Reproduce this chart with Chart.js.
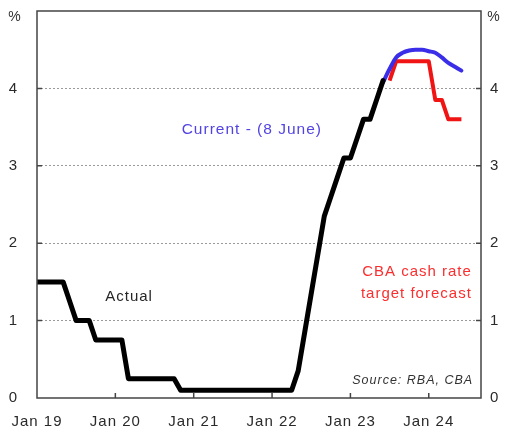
<!DOCTYPE html>
<html>
<head>
<meta charset="utf-8">
<script src="https://cdn.jsdelivr.net/npm/chart.js@4"></script>
<style>
  html, body { margin: 0; padding: 0; background: #ffffff; }
  #wrap { width: 506px; height: 434px; }
</style>
</head>
<body>
<div id="wrap"><canvas id="chart" width="506" height="434"></canvas></div>
<script>
// Cash rate, % — monthly, months counted from Jan 2019 (month 0)
const actualStart = 0;
const actualRate = [
  1.50, 1.50, 1.50, 1.50, 1.50, 1.25, 1.00, 1.00, 1.00, 0.75, 0.75, 0.75, // 2019
  0.75, 0.75, 0.25, 0.25, 0.25, 0.25, 0.25, 0.25, 0.25, 0.25, 0.10, 0.10, // 2020
  0.10, 0.10, 0.10, 0.10, 0.10, 0.10, 0.10, 0.10, 0.10, 0.10, 0.10, 0.10, // 2021
  0.10, 0.10, 0.10, 0.10, 0.35, 0.85, 1.35, 1.85, 2.35, 2.60, 2.85, 3.10, // 2022
  3.10, 3.35, 3.60, 3.60, 3.85, 4.10                                      // 2023
];

// Market pricing as at 8 June (from Jun 2023)
const currentStart = 53;
const currentPath = [4.08, 4.25, 4.40, 4.46, 4.49, 4.50, 4.50, 4.48, 4.46, 4.40, 4.33, 4.28, 4.23];

// CBA cash rate target forecast (from Jul 2023)
const cbaStart = 54;
const cbaForecast = [4.10, 4.35, 4.35, 4.35, 4.35, 4.35, 4.35, 3.85, 3.85, 3.60, 3.60, 3.60];

// X-axis tick labels, one per January
const tickLabels = ['Jan 19', 'Jan 20', 'Jan 21', 'Jan 22', 'Jan 23', 'Jan 24'];
const yTicks = [0, 1, 2, 3, 4];

const FONT = '"Liberation Sans", Arial, sans-serif';
const toPoints = (start, arr) => arr.map((v, i) => ({ x: start + i, y: v }));

// Fixed axis sizes; label overhang should not shrink the plot
const fixSize = (w, h) => s => {
  if (w != null) s.width = w;
  if (h != null) s.height = h;
  s.paddingLeft = s.paddingRight = s.paddingTop = s.paddingBottom = 0;
};

// Frame, inner tick marks, annotations and unit labels
const decor = {
  id: 'decor',
  beforeUpdate(chart) { chart.ctx.letterSpacing = '1px'; },
  beforeDraw(chart) { chart.ctx.letterSpacing = '1px'; },
  afterDatasetsDraw(chart) {
    const { ctx, chartArea: a, scales } = chart;
    const xs = scales.x, ys = scales.y;
    ctx.save();
    ctx.strokeStyle = '#444';
    ctx.lineWidth = 1.5;
    ctx.strokeRect(a.left, a.top, a.right - a.left, a.bottom - a.top);
    ctx.beginPath();
    yTicks.slice(1).forEach(v => {
      const py = ys.getPixelForValue(v);
      ctx.moveTo(a.left, py); ctx.lineTo(a.left + 5, py);
      ctx.moveTo(a.right, py); ctx.lineTo(a.right - 5, py);
    });
    tickLabels.forEach((_, i) => {
      if (i === 0) return;
      const px = xs.getPixelForValue(i * 12);
      ctx.moveTo(px, a.bottom); ctx.lineTo(px, a.bottom - 5);
    });
    ctx.stroke();

    const text = (str, mx, vy, font, color, align) => {
      ctx.font = font;
      ctx.fillStyle = color;
      ctx.textAlign = align || 'center';
      ctx.textBaseline = 'middle';
      ctx.fillText(str, xs.getPixelForValue(mx), ys.getPixelForValue(vy));
    };
    ctx.letterSpacing = '1px';
    text('Current - (8 June)', 32.9, 3.46, '15.5px ' + FONT, '#5244e2');
    text('Actual', 14.1, 1.31, '15px ' + FONT, '#262626');
    text('CBA cash rate', 58.2, 1.63, '15px ' + FONT, '#fa2e2e');
    text('target forecast', 58.1, 1.34, '15px ' + FONT, '#fa2e2e');
    text('Source: RBA, CBA', 66.8, 0.22, 'italic 12.5px ' + FONT, '#333', 'right');

    ctx.font = '14px ' + FONT;
    ctx.fillStyle = '#333';
    ctx.textBaseline = 'middle';
    ctx.textAlign = 'center';
    ctx.fillText('%', 15, 17);
    ctx.fillText('%', 494, 17);
    ctx.restore();
  }
};

new Chart(document.getElementById('chart'), {
  type: 'line',
  data: {
    datasets: [
      {
        label: 'Actual',
        data: toPoints(actualStart, actualRate),
        borderColor: '#000000',
        borderWidth: 5,
        pointRadius: 0,
        tension: 0,
        borderJoinStyle: 'round',
        borderCapStyle: 'round'
      },
      {
        label: 'Current - (8 June)',
        data: toPoints(currentStart, currentPath),
        borderColor: '#3a2ee8',
        borderWidth: 4,
        pointRadius: 0,
        cubicInterpolationMode: 'monotone',
        borderJoinStyle: 'round',
        borderCapStyle: 'round'
      },
      {
        label: 'CBA cash rate target forecast',
        data: toPoints(cbaStart, cbaForecast),
        borderColor: '#f01414',
        borderWidth: 4,
        pointRadius: 0,
        tension: 0,
        borderJoinStyle: 'round',
        borderCapStyle: 'butt'
      }
    ]
  },
  options: {
    responsive: false,
    animation: false,
    events: [],
    layout: { autoPadding: false, padding: { top: 11, left: 0, right: 0, bottom: 0 } },
    plugins: { legend: { display: false }, tooltip: { enabled: false } },
    scales: {
      x: {
        type: 'linear',
        min: 0,
        max: 68,
        afterBuildTicks: s => { s.ticks = tickLabels.map((_, i) => ({ value: i * 12 })); },
        afterFit: fixSize(null, 36),
        ticks: {
          autoSkip: false,
          maxRotation: 0,
          padding: 15,
          color: '#2a2a2a',
          font: { family: FONT, size: 15 },
          callback: v => tickLabels[v / 12]
        },
        grid: { display: false, drawTicks: false },
        border: { display: false }
      },
      y: {
        position: 'left',
        min: 0,
        max: 5,
        afterBuildTicks: s => { s.ticks = yTicks.map(v => ({ value: v })); },
        afterFit: fixSize(37, null),
        ticks: {
          padding: 19,
          color: '#2a2a2a',
          font: { family: FONT, size: 15 },
          callback: v => String(v)
        },
        grid: {
          drawTicks: false,
          color: ctx => (ctx.tick && ctx.tick.value > 0) ? '#9a9a9a' : 'rgba(0,0,0,0)',
          lineWidth: 1
        },
        border: { display: false, dash: [2, 2] }
      },
      y2: {
        position: 'right',
        min: 0,
        max: 5,
        afterBuildTicks: s => { s.ticks = yTicks.map(v => ({ value: v })); },
        afterFit: fixSize(25, null),
        ticks: {
          padding: 9,
          color: '#2a2a2a',
          font: { family: FONT, size: 15 },
          callback: v => String(v)
        },
        grid: { display: false, drawTicks: false },
        border: { display: false }
      }
    }
  },
  plugins: [decor]
});
</script>
</body>
</html>
